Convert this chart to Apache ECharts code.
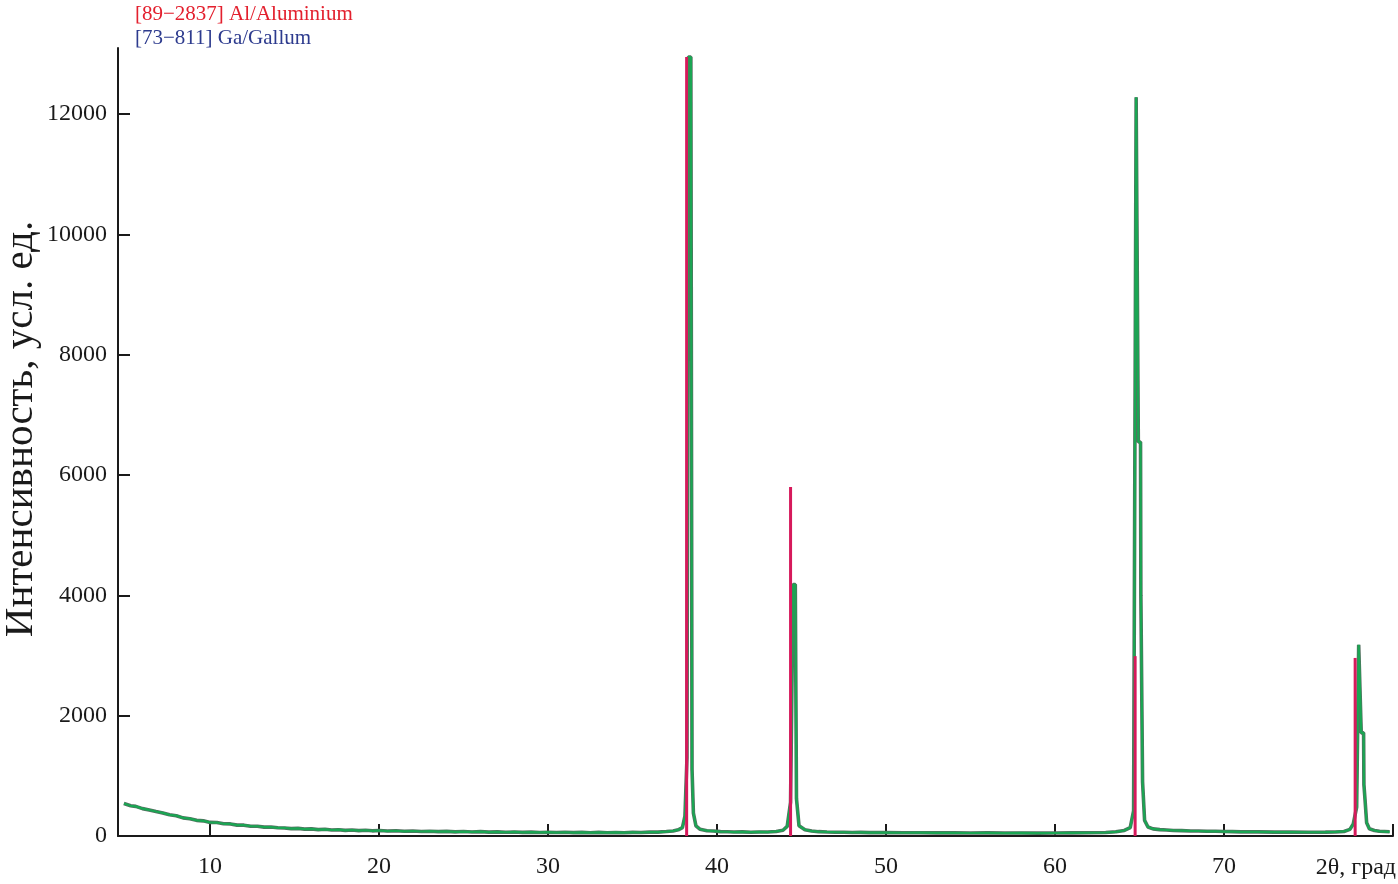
<!DOCTYPE html>
<html>
<head>
    <meta charset="utf-8">
    <script src="https://cdn.jsdelivr.net/npm/echarts@6/dist/echarts.min.js"></script>
    <style>
        html, body { margin: 0; padding: 0; background: #fff; }
        #xrd { width: 1398px; height: 884px; }
    </style>
</head>
<body>
    <div id="xrd"></div>
<script type="text/javascript">
    // измеренная дифрактограмма: [2θ, интенсивность], по участкам
    var scanLow = [
        [4.9, 540], [5.3, 502], [5.6, 492], [6.0, 455], [6.4, 433], [6.8, 408], [7.2, 384], [7.6, 352],
        [8.0, 338], [8.4, 301], [8.8, 288], [9.2, 260], [9.6, 252], [10.0, 226], [10.4, 224], [10.8, 203],
        [11.2, 201], [11.6, 181], [12.0, 180], [12.4, 163], [12.8, 162], [13.2, 148], [13.6, 149], [14.0, 136],
        [14.4, 134], [14.8, 123], [15.2, 127], [15.6, 114], [16.0, 119], [16.4, 106], [16.8, 111], [17.2, 100],
        [17.6, 105], [18.0, 94], [18.4, 100], [18.8, 90], [19.2, 96], [19.6, 86], [20.0, 91], [20.5, 82],
        [21.0, 87], [21.5, 78], [22.0, 83], [22.5, 75], [23.0, 80], [23.5, 72], [24.0, 77], [24.5, 69],
        [25.0, 74], [25.5, 67], [26.0, 72], [26.5, 64], [27.0, 69], [27.5, 62], [28.0, 67], [28.5, 60],
        [29.0, 65], [29.5, 59], [30.0, 63], [30.5, 57], [31.0, 62], [31.5, 56], [32.0, 61], [32.5, 55],
        [33.0, 60], [33.5, 55], [34.0, 59], [34.5, 55], [35.0, 60], [35.5, 58], [36.0, 64], [36.5, 64],
        [37.0, 74], [37.4, 84], [37.7, 102]
    ];
    var peak38 = [
        [37.95, 140], [38.1, 330], [38.22, 1300], [38.3, 12950], [38.45, 12950], [38.52, 1100],
        [38.6, 380], [38.75, 170]
    ];
    var scan39to44 = [
        [39.0, 112], [39.4, 88], [39.8, 82], [40.2, 73], [40.6, 71], [41.0, 66], [41.5, 68], [42.0, 63],
        [42.5, 67], [43.0, 66], [43.5, 76], [43.9, 96]
    ];
    var peak44 = [
        [44.15, 160], [44.35, 560], [44.5, 4180], [44.63, 4180], [44.7, 620], [44.85, 170]
    ];
    var scan45to64 = [
        [45.2, 104], [45.6, 82], [46.0, 72], [46.5, 67], [47.0, 63], [47.5, 62], [48.0, 58], [48.5, 60],
        [49.0, 56], [50.0, 57], [51.0, 54], [52.0, 55], [53.0, 52], [54.0, 54], [55.0, 50], [56.0, 52],
        [57.0, 49], [58.0, 51], [59.0, 48], [60.0, 50], [61.0, 52], [62.0, 54], [63.0, 58], [63.6, 70],
        [64.1, 92], [64.45, 140]
    ];
    var peak65 = [
        [64.65, 420], [64.8, 12280], [64.88, 12280], [64.93, 6550], [65.06, 6550], [65.08, 4000],
        [65.12, 4000], [65.18, 900], [65.3, 260], [65.5, 150]
    ];
    var scan66to77 = [
        [65.8, 118], [66.2, 106], [66.6, 100], [67.0, 92], [67.5, 90], [68.0, 84], [68.5, 83], [69.0, 78],
        [69.5, 79], [70.0, 74], [70.5, 73], [71.0, 69], [72.0, 68], [73.0, 65], [74.0, 65], [75.0, 62],
        [76.0, 64], [76.6, 67], [77.1, 76], [77.45, 110]
    ];
    var peak78 = [
        [77.65, 200], [77.85, 480], [77.97, 3180], [78.06, 3180], [78.12, 1715], [78.26, 1715],
        [78.28, 850], [78.34, 620], [78.44, 220], [78.6, 120]
    ];
    var scanTail = [
        [78.9, 92], [79.2, 78], [79.5, 74], [79.8, 70]
    ];

    // штрих-диаграмма Al [89-2837]
    var alAngles = [38.2, 44.35, 64.74, 77.76];
    var alHeights = [12950, 5800, 2990, 2960];

    var yTicks = [0, 2000, 4000, 6000, 8000, 10000, 12000];
    var xTicks = [10, 20, 30, 40, 50, 60, 70, 80];

    var scan = [].concat(scanLow, peak38, scan39to44, peak44, scan45to64, peak65, scan66to77, peak78, scanTail);
    var alBars = alAngles.map(function (a, i) { return [a, alHeights[i]]; });

    var font = 'Liberation Serif';
    var chart = echarts.init(document.getElementById('xrd'));

    var option = {
        backgroundColor: '#ffffff',
        animation: false,
        title: [
            {
                text: '[89\u22122837] Al/Aluminium',
                left: 130, top: -1,
                textStyle: { color: '#e3202e', fontFamily: font, fontSize: 21, fontWeight: 'normal' }
            },
            {
                text: '[73\u2212811] Ga/Gallum',
                left: 130, top: 23,
                textStyle: { color: '#2d3b8e', fontFamily: font, fontSize: 21, fontWeight: 'normal' }
            }
        ],
        grid: { left: 118, right: 5, top: 48, bottom: 48, containLabel: false, outerBoundsMode: 'none' },
        xAxis: {
            type: 'value',
            min: 4.55,
            max: 80,
            splitLine: { show: false },
            axisLine: { lineStyle: { color: '#1a1a1a', width: 2 } },
            axisTick: {
                inside: true, length: 12, customValues: xTicks,
                lineStyle: { color: '#1a1a1a', width: 2 }
            },
            axisLabel: {
                customValues: xTicks.slice(0, 7),
                margin: 19,
                color: '#1a1a1a', fontFamily: font, fontSize: 24,
                formatter: function (v) { return String(v); }
            },
            name: '2\u03b8, \u0433\u0440\u0430\u0434',
            nameLocation: 'end',
            nameGap: 3,
            nameMoveOverlap: false,
            nameTextStyle: {
                color: '#1a1a1a', fontFamily: font, fontSize: 24,
                align: 'right', verticalAlign: 'top', padding: [20, 0, 0, 0]
            }
        },
        yAxis: {
            type: 'value',
            min: 0,
            max: 13100,
            splitLine: { show: false },
            axisLine: { show: true, lineStyle: { color: '#1a1a1a', width: 2 } },
            axisTick: {
                show: true, inside: true, length: 12, customValues: yTicks,
                lineStyle: { color: '#1a1a1a', width: 2 }
            },
            axisLabel: {
                customValues: yTicks,
                margin: 11,
                color: '#1a1a1a', fontFamily: font, fontSize: 24,
                formatter: function (v) { return String(v); }
            },
            name: '\u0418\u043d\u0442\u0435\u043d\u0441\u0438\u0432\u043d\u043e\u0441\u0442\u044c, \u0443\u0441\u043b. \u0435\u0434.',
            nameLocation: 'middle',
            nameGap: 76,
            nameMoveOverlap: false,
            nameTextStyle: { color: '#1a1a1a', fontFamily: font, fontSize: 41, padding: [0, 0, 0, 26] }
        },
        series: [
            {
                name: 'scan-edge',
                type: 'line',
                data: scan,
                showSymbol: false,
                z: 2,
                lineStyle: { color: '#557061', width: 3.6 }
            },
            {
                name: 'scan',
                type: 'line',
                data: scan,
                showSymbol: false,
                z: 3,
                lineStyle: { color: '#1aa653', width: 2.2 }
            },
            {
                name: 'Al',
                type: 'bar',
                data: alBars,
                barWidth: 3,
                z: 4,
                itemStyle: { color: '#d6195b' }
            }
        ]
    };

    chart.setOption(option);
</script>
</body>
</html>
